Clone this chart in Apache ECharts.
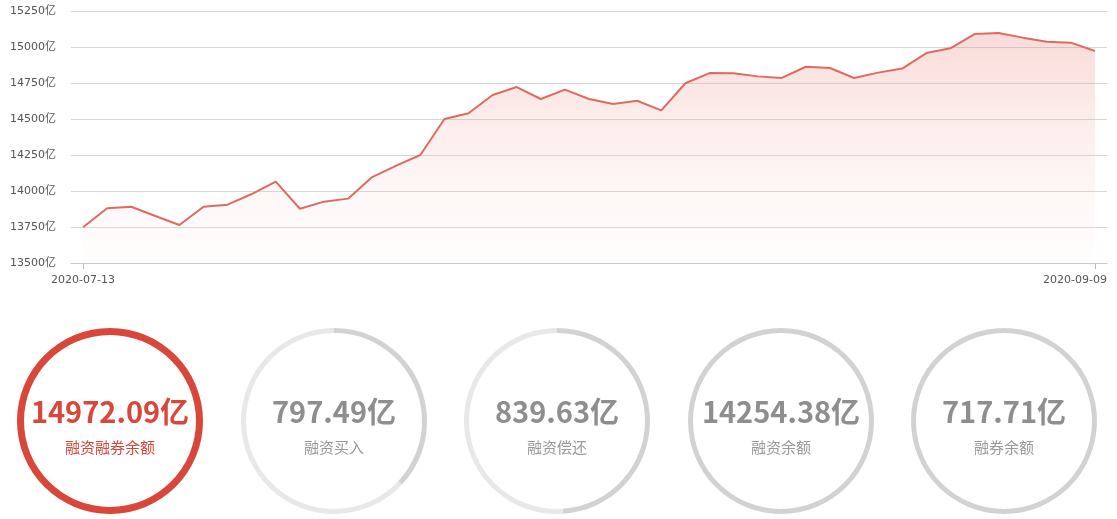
<!DOCTYPE html>
<html>
<head>
<meta charset="utf-8">
<script src="https://cdn.jsdelivr.net/npm/echarts@6/dist/echarts.min.js"></script>
<style>
html,body{margin:0;padding:0;background:#fff;}
#c{width:1117px;height:519px;}
</style>
</head>
<body>
<div id="c"></div>
<script>
var dates = [
  '2020-07-13','2020-07-14','2020-07-15','2020-07-16','2020-07-17',
  '2020-07-20','2020-07-21','2020-07-22','2020-07-23','2020-07-24',
  '2020-07-27','2020-07-28','2020-07-29','2020-07-30','2020-07-31',
  '2020-08-03','2020-08-04','2020-08-05','2020-08-06','2020-08-07',
  '2020-08-10','2020-08-11','2020-08-12','2020-08-13','2020-08-14',
  '2020-08-17','2020-08-18','2020-08-19','2020-08-20','2020-08-21',
  '2020-08-24','2020-08-25','2020-08-26','2020-08-27','2020-08-28',
  '2020-08-31','2020-09-01','2020-09-02','2020-09-03','2020-09-04',
  '2020-09-07','2020-09-08','2020-09-09'
];
var balance = [
  13748, 13880, 13891, 13826, 13764, 13891, 13905, 13979, 14065, 13877,
  13926, 13947, 14097, 14176, 14250, 14500, 14540, 14667, 14722, 14639,
  14704, 14639, 14604, 14627, 14560, 14748, 14819, 14817, 14796, 14785,
  14863, 14854, 14785, 14822, 14850, 14958, 14991, 15090, 15097, 15065,
  15037, 15030, 14972.09
];
var yTicks = [13500, 13750, 14000, 14250, 14500, 14750, 15000, 15250];
var cardNames = ['融资融券余额', '融资买入', '融资偿还', '融资余额', '融券余额'];
var cardValues = ['14972.09', '797.49', '839.63', '14254.38', '717.71'];
var cardArc = [1, 0.37, 0.49, 1, 1];

var chart = echarts.init(document.getElementById('c'), null, {renderer: 'canvas'});
var FONT = '"Microsoft YaHei","Noto Sans CJK SC","Noto Sans",sans-serif';
var AXFONT = 'Tahoma,"DejaVu Sans","Noto Sans CJK SC",sans-serif';
var lastIdx = dates.length - 1;

var centersX = [110, 334, 557, 781, 1004];
var pies = cardNames.map(function (name, i) {
  var main = i === 0;
  var darkColor = main ? '#d9473a' : '#d2d2d2';
  var lightColor = '#e8e8e8';
  return {
    type: 'pie',
    silent: true,
    center: [centersX[i], 421],
    radius: main ? [86, 93] : [88, 93],
    startAngle: 90,
    clockwise: true,
    animation: false,
    labelLine: {show: false},
    data: [
      {
        value: cardArc[i],
        name: name,
        itemStyle: {color: darkColor},
        label: {
          show: true,
          position: 'center',
          padding: [12, 0, 0, 0],
          formatter: '{v|' + cardValues[i] + '亿}\n{n|' + name + '}',
          rich: {
            v: {fontSize: 29, fontWeight: 'bold', color: main ? '#d9473a' : '#8e8e8e', fontFamily: FONT, lineHeight: 40},
            n: {fontSize: 15, color: main ? '#d9473a' : '#999999', fontFamily: FONT, lineHeight: 30}
          }
        }
      },
      {
        value: 1 - cardArc[i],
        name: name + '_rest',
        itemStyle: {color: lightColor},
        label: {show: false}
      }
    ]
  };
});

var option = {
  backgroundColor: '#fff',
  animation: false,
  grid: {left: 71, right: 10, top: 11, height: 252, containLabel: false},
  xAxis: {
    type: 'category',
    data: dates,
    boundaryGap: true,
    axisLine: {lineStyle: {color: '#c8c8c8'}},
    axisTick: {
      show: true,
      alignWithLabel: true,
      interval: lastIdx - 1,
      lineStyle: {color: '#bbbbbb'},
      length: 6
    },
    axisLabel: {
      interval: lastIdx - 1,
      color: '#555',
      fontSize: 11,
      fontFamily: AXFONT,
      margin: 12,
      formatter: function (v, idx) { return idx === lastIdx ? '{last|' + v + '}' : v; },
      rich: {last: {padding: [0, 40, 0, 0], color: '#555', fontSize: 11, fontFamily: AXFONT}}
    }
  },
  yAxis: {
    type: 'value',
    min: yTicks[0],
    max: yTicks[yTicks.length - 1],
    interval: 250,
    axisLine: {show: false},
    axisTick: {show: false},
    splitLine: {lineStyle: {color: '#d6d6d6'}},
    axisLabel: {
      formatter: function (v) { return v + '亿'; },
      color: '#555',
      fontSize: 11,
      margin: 15,
      fontFamily: AXFONT
    }
  },
  series: [{
    type: 'line',
    data: balance,
    showSymbol: false,
    symbol: 'none',
    lineStyle: {color: '#e06a5e', width: 2},
    itemStyle: {color: '#e06a5e'},
    areaStyle: {
      color: new echarts.graphic.LinearGradient(0, 0, 0, 1, [
        {offset: 0, color: 'rgba(230,120,108,0.38)'},
        {offset: 1, color: 'rgba(255,240,238,0.15)'}
      ])
    }
  }].concat(pies)
};
chart.setOption(option);
</script>
</body>
</html>
